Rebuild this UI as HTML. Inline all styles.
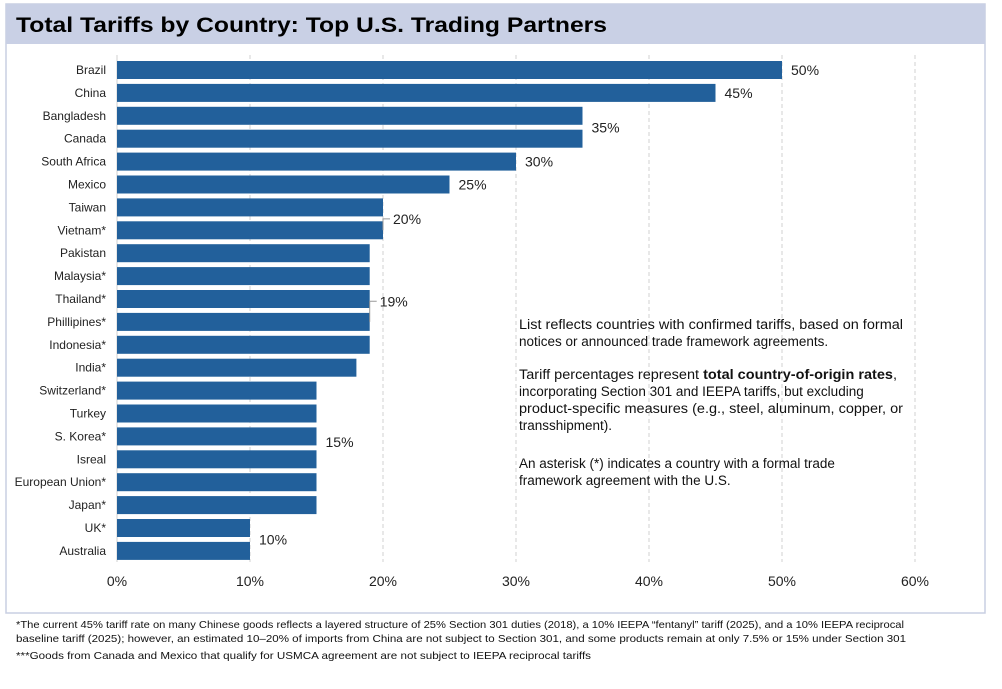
<!DOCTYPE html>
<html><head><meta charset="utf-8"><style>
body{margin:0;background:#fff;font-family:"Liberation Sans",sans-serif;}
#wrap{position:relative;width:1002px;height:689px;overflow:hidden;}
</style></head><body>
<div id="wrap">
<svg id="chart" width="1002" height="689">
<rect x="6" y="4" width="979" height="609" fill="#fff" stroke="#c9cfe2" stroke-width="1.5"/>
<rect x="6" y="4" width="979" height="40" fill="#c9d0e5"/>
<text x="16" y="32" font-size="21" font-weight="bold" fill="#000" textLength="591" lengthAdjust="spacingAndGlyphs">Total Tariffs by Country: Top U.S. Trading Partners</text>
<g id="grid"></g><g id="bars"></g><g id="labels"></g>
<g font-size="13.5" fill="#111">
<text x="519" y="329" textLength="384" lengthAdjust="spacingAndGlyphs">List reflects countries with confirmed tariffs, based on formal</text>
<text x="519" y="346">notices or announced trade framework agreements.</text>
<text x="519" y="379" textLength="378" lengthAdjust="spacingAndGlyphs">Tariff percentages represent <tspan font-weight="bold">total country-of-origin rates</tspan>,</text>
<text x="519" y="396">incorporating Section 301 and IEEPA tariffs, but excluding</text>
<text x="519" y="413" textLength="384" lengthAdjust="spacingAndGlyphs">product-specific measures (e.g., steel, aluminum, copper, or</text>
<text x="519" y="430">transshipment).</text>
<text x="519" y="468">An asterisk (*) indicates a country with a formal trade</text>
<text x="519" y="485">framework agreement with the U.S.</text>
</g>
<g font-size="10.5" fill="#111">
<text x="16" y="628" textLength="888" lengthAdjust="spacingAndGlyphs">*The current 45% tariff rate on many Chinese goods reflects a layered structure of 25% Section 301 duties (2018), a 10% IEEPA “fentanyl” tariff (2025), and a 10% IEEPA reciprocal</text>
<text x="16" y="642" textLength="890" lengthAdjust="spacingAndGlyphs">baseline tariff (2025); however, an estimated 10–20% of imports from China are not subject to Section 301, and some products remain at only 7.5% or 15% under Section 301</text>
<text x="16" y="659" textLength="575" lengthAdjust="spacingAndGlyphs">***Goods from Canada and Mexico that qualify for USMCA agreement are not subject to IEEPA reciprocal tariffs</text>
</g>
</svg>
</div>
<script>
const countries=["Brazil","China","Bangladesh","Canada","South Africa","Mexico","Taiwan","Vietnam*","Pakistan","Malaysia*","Thailand*","Phillipines*","Indonesia*","India*","Switzerland*","Turkey","S. Korea*","Isreal","European Union*","Japan*","UK*","Australia"];
const values=[50,45,35,35,30,25,20,20,19,19,19,19,19,18,15,15,15,15,15,15,10,10];
const ticks=[0,10,20,30,40,50,60];
const annotations=[{i:0,v:50,label:"50%"},{i:1,v:45,label:"45%"},{i:2.5,v:35,label:"35%"},{i:4,v:30,label:"30%"},{i:5,v:25,label:"25%"},{i:6.5,v:20,label:"20%",leader:true},{i:10.1,v:19,label:"19%",leader:true},{i:16.25,v:15,label:"15%"},{i:20.5,v:10,label:"10%"}];
const NS="http://www.w3.org/2000/svg";
const x0=117,pxPer=13.3,yTop=61,step=22.9,bh=18;
const xs=v=>x0+v*pxPer, yc=i=>yTop+i*step+bh/2;
function mk(t,a,p){const e=document.createElementNS(NS,t);for(const k in a)e.setAttribute(k,a[k]);p.appendChild(e);return e;}
const grid=document.getElementById('grid'),bars=document.getElementById('bars'),labels=document.getElementById('labels');
ticks.forEach(t=>{
 if(t>0){const l=mk('line',{x1:xs(t),x2:xs(t),y1:55,y2:562,stroke:'#d0d0d0','stroke-dasharray':'4,3'},grid);
 
 }
 const tx=mk('text',{x:xs(t),y:586,'font-size':14,'text-anchor':'middle',fill:'#222'},grid);tx.textContent=t+'%';
 
 
});
mk('line',{x1:x0,x2:x0,y1:55,y2:562,stroke:'#d0d0d0'},grid);
countries.forEach((c,i)=>{
 const r=mk('rect',{x:x0,y:yTop+i*step,width:xs(values[i])-x0,height:bh,fill:'#22609b'},bars);
 
 
 const t=mk('text',{x:106,y:yc(i)+4,'font-size':12,'text-anchor':'end',fill:'#222'},labels);t.textContent=c;
 
 
});
annotations.forEach(a=>{
 const y=yc(a.i)+5;
 if(a.leader){mk('path',{d:`M${xs(a.v)} ${yc(Math.floor(a.i)+1)} L${xs(a.v)} ${yc(a.i)} L${xs(a.v)+7} ${yc(a.i)}`,stroke:'#999',fill:'none'},labels);}
 const t=mk('text',{x:xs(a.v)+(a.leader?10:9),y:y,'font-size':14,fill:'#222'},labels);t.textContent=a.label;
 
 
});
</script>
</body></html>
